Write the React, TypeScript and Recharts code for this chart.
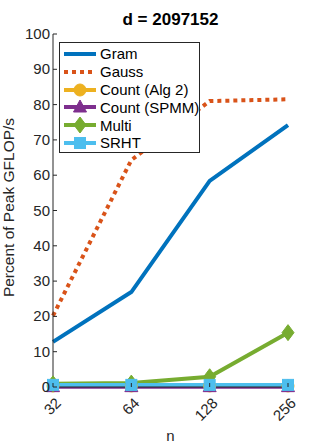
import React from 'react';
import { LineChart, Line, XAxis, YAxis, Legend } from 'recharts';

const categories = ['32', '64', '128', '256'];
const gram = [12.8, 26.9, 58.4, 74.2];
const gauss = [20.2, 64.3, 81.0, 81.5];
const countAlg2 = [0.3, 0.3, 0.3, 0.3];
const countSpmm = [0.1, 0.1, 0.1, 0.1];
const multi = [0.9, 1.1, 2.9, 15.4];
const srht = [0.6, 0.6, 0.6, 0.6];
const yTicks = [0, 10, 20, 30, 40, 50, 60, 70, 80, 90, 100];
const title = 'd = 2097152';

const seriesNames = ['Gram', 'Gauss', 'Count (Alg 2)', 'Count (SPMM)', 'Multi', 'SRHT'];
const seriesKeys = ['gram', 'gauss', 'countAlg2', 'countSpmm', 'multi', 'srht'];
const seriesColors = ['#0072BD', '#D95319', '#EDB120', '#7E2F8E', '#77AC30', '#4DBEEE'];
const seriesMarkers = ['none', 'none', 'circle', 'triangle', 'diamond', 'square'];
const seriesDash = ['', '4 4', '', '', '', ''];

const data = categories.map((n, i) => ({
  n,
  gram: gram[i],
  gauss: gauss[i],
  countAlg2: countAlg2[i],
  countSpmm: countSpmm[i],
  multi: multi[i],
  srht: srht[i],
}));

const FONT = '"Liberation Sans", Arial, Helvetica, sans-serif';
const AX = '#262626';

function Marker({ type, cx, cy, color }: { type: string; cx: number; cy: number; color: string }) {
  if (type === 'circle') return <circle cx={cx} cy={cy} r={6} fill={color} stroke={color} />;
  if (type === 'square') return <rect x={cx - 5.5} y={cy - 5.5} width={11} height={11} fill={color} stroke={color} />;
  if (type === 'triangle')
    return <polygon points={`${cx},${cy - 7} ${cx + 6.5},${cy + 5} ${cx - 6.5},${cy + 5}`} fill={color} stroke={color} />;
  if (type === 'diamond')
    return <polygon points={`${cx},${cy - 8} ${cx + 6},${cy} ${cx},${cy + 8} ${cx - 6},${cy}`} fill={color} stroke={color} />;
  return null;
}

const makeDot = (type: string, color: string) => (props: any) => {
  const { cx, cy, index } = props;
  if (type === 'none' || cx == null || cy == null) return <g key={`d-${index}`} />;
  return (
    <g key={`d-${index}`}>
      <Marker type={type} cx={cx} cy={cy} color={color} />
    </g>
  );
};

const BottomTick = (props: any) => {
  const { x, y, payload } = props;
  return (
    <g>
      <line x1={x} y1={y} x2={x} y2={y - 4} stroke={AX} strokeWidth={1} />
      <text
        x={x + 9}
        y={y + 17}
        textAnchor="end"
        fontFamily={FONT}
        fontSize={15}
        fill={AX}
        transform={`rotate(-45 ${x + 9} ${y + 17})`}
      >
        {payload.value}
      </text>
    </g>
  );
};

const TopTick = (props: any) => {
  const { x, y } = props;
  return <line x1={x} y1={y} x2={x} y2={y + 4} stroke={AX} strokeWidth={1} />;
};

const LeftTick = (props: any) => {
  const { x, y, payload } = props;
  return (
    <g>
      <line x1={x} y1={y} x2={x + 4} y2={y} stroke={AX} strokeWidth={1} />
      <text x={x - 3} y={y + 5} textAnchor="end" fontFamily={FONT} fontSize={15} fill={AX}>
        {payload.value}
      </text>
    </g>
  );
};

const RightTick = (props: any) => {
  const { x, y } = props;
  return <line x1={x} y1={y} x2={x - 4} y2={y} stroke={AX} strokeWidth={1} />;
};

const renderLegend = () => (
  <div
    style={{
      width: 141,
      height: 111,
      boxSizing: 'border-box',
      border: `1px solid ${AX}`,
      background: '#fff',
      paddingTop: 2,
      fontFamily: FONT,
      fontSize: 15,
      color: '#000',
    }}
  >
    {seriesNames.map((name, i) => (
      <div key={name} style={{ display: 'flex', alignItems: 'center', height: 17.8, whiteSpace: 'nowrap' }}>
        <svg width={40} height={18} style={{ flex: '0 0 auto' }}>
          <line
            x1={4}
            y1={9}
            x2={36}
            y2={9}
            stroke={seriesColors[i]}
            strokeWidth={4}
            strokeDasharray={seriesDash[i] || undefined}
          />
          <Marker type={seriesMarkers[i]} cx={20} cy={9} color={seriesColors[i]} />
        </svg>
        <span style={{ lineHeight: '17px' }}>{name}</span>
      </div>
    ))}
  </div>
);

export default function App() {
  return (
    <div style={{ position: 'absolute', left: 0, top: 0, width: 319, height: 445, background: '#fff' }}>
      <div
        style={{
          position: 'absolute',
          left: 53,
          top: 11,
          width: 235,
          textAlign: 'center',
          fontFamily: FONT,
          fontSize: 17,
          fontWeight: 'bold',
          lineHeight: '17px',
          color: '#000',
          zIndex: 2,
        }}
      >
        {title}
      </div>
      <LineChart width={319} height={445} data={data} margin={{ top: 34, right: 31, bottom: 0, left: 0 }}>
        <XAxis
          xAxisId="bottom"
          dataKey="n"
          orientation="bottom"
          height={58}
          tickSize={0}
          tickMargin={0}
          tickLine={false}
          axisLine={{ stroke: AX }}
          tick={<BottomTick />}
          interval={0}
          label={{
            content: (p: any) => {
              const vb = p.viewBox;
              return (
                <text x={vb.x + vb.width / 2} y={vb.y + 54} textAnchor="middle" fontFamily={FONT} fontSize={15} fill={AX}>
                  n
                </text>
              );
            },
          }}
        />
        <XAxis
          xAxisId="top"
          dataKey="n"
          orientation="top"
          height={0}
          tickSize={0}
          tickMargin={0}
          tickLine={false}
          axisLine={{ stroke: AX }}
          tick={<TopTick />}
          interval={0}
        />
        <YAxis
          yAxisId="left"
          orientation="left"
          width={53}
          domain={[0, 100]}
          ticks={yTicks}
          interval={0}
          tickSize={0}
          tickMargin={0}
          tickLine={false}
          axisLine={{ stroke: AX }}
          tick={<LeftTick />}
          label={{
            content: (p: any) => {
              const vb = p.viewBox;
              const cx = vb.x + 14;
              const cy = vb.y + vb.height / 2 - 3;
              return (
                <text
                  x={cx}
                  y={cy}
                  textAnchor="middle"
                  fontFamily={FONT}
                  fontSize={15.5}
                  fill={AX}
                  transform={`rotate(-90 ${cx} ${cy})`}
                >
                  Percent of Peak GFLOP/s
                </text>
              );
            },
          }}
        />
        <YAxis
          yAxisId="right"
          orientation="right"
          width={0}
          domain={[0, 100]}
          ticks={yTicks}
          interval={0}
          tickSize={0}
          tickMargin={0}
          tickLine={false}
          axisLine={{ stroke: AX }}
          tick={<RightTick />}
        />
        <Legend
          layout="vertical"
          align="center"
          verticalAlign="middle"
          wrapperStyle={{ position: 'absolute', left: 59, top: 42, width: 141, height: 111 }}
          content={renderLegend}
        />
        {seriesKeys.map((k, i) => (
          <Line
            key={k}
            xAxisId="bottom"
            yAxisId="left"
            type="linear"
            dataKey={k}
            name={seriesNames[i]}
            stroke={seriesColors[i]}
            strokeWidth={4}
            strokeDasharray={seriesDash[i] || undefined}
            strokeLinecap="butt"
            dot={makeDot(seriesMarkers[i], seriesColors[i])}
            activeDot={false}
            isAnimationActive={false}
          />
        ))}
      </LineChart>
    </div>
  );
}
